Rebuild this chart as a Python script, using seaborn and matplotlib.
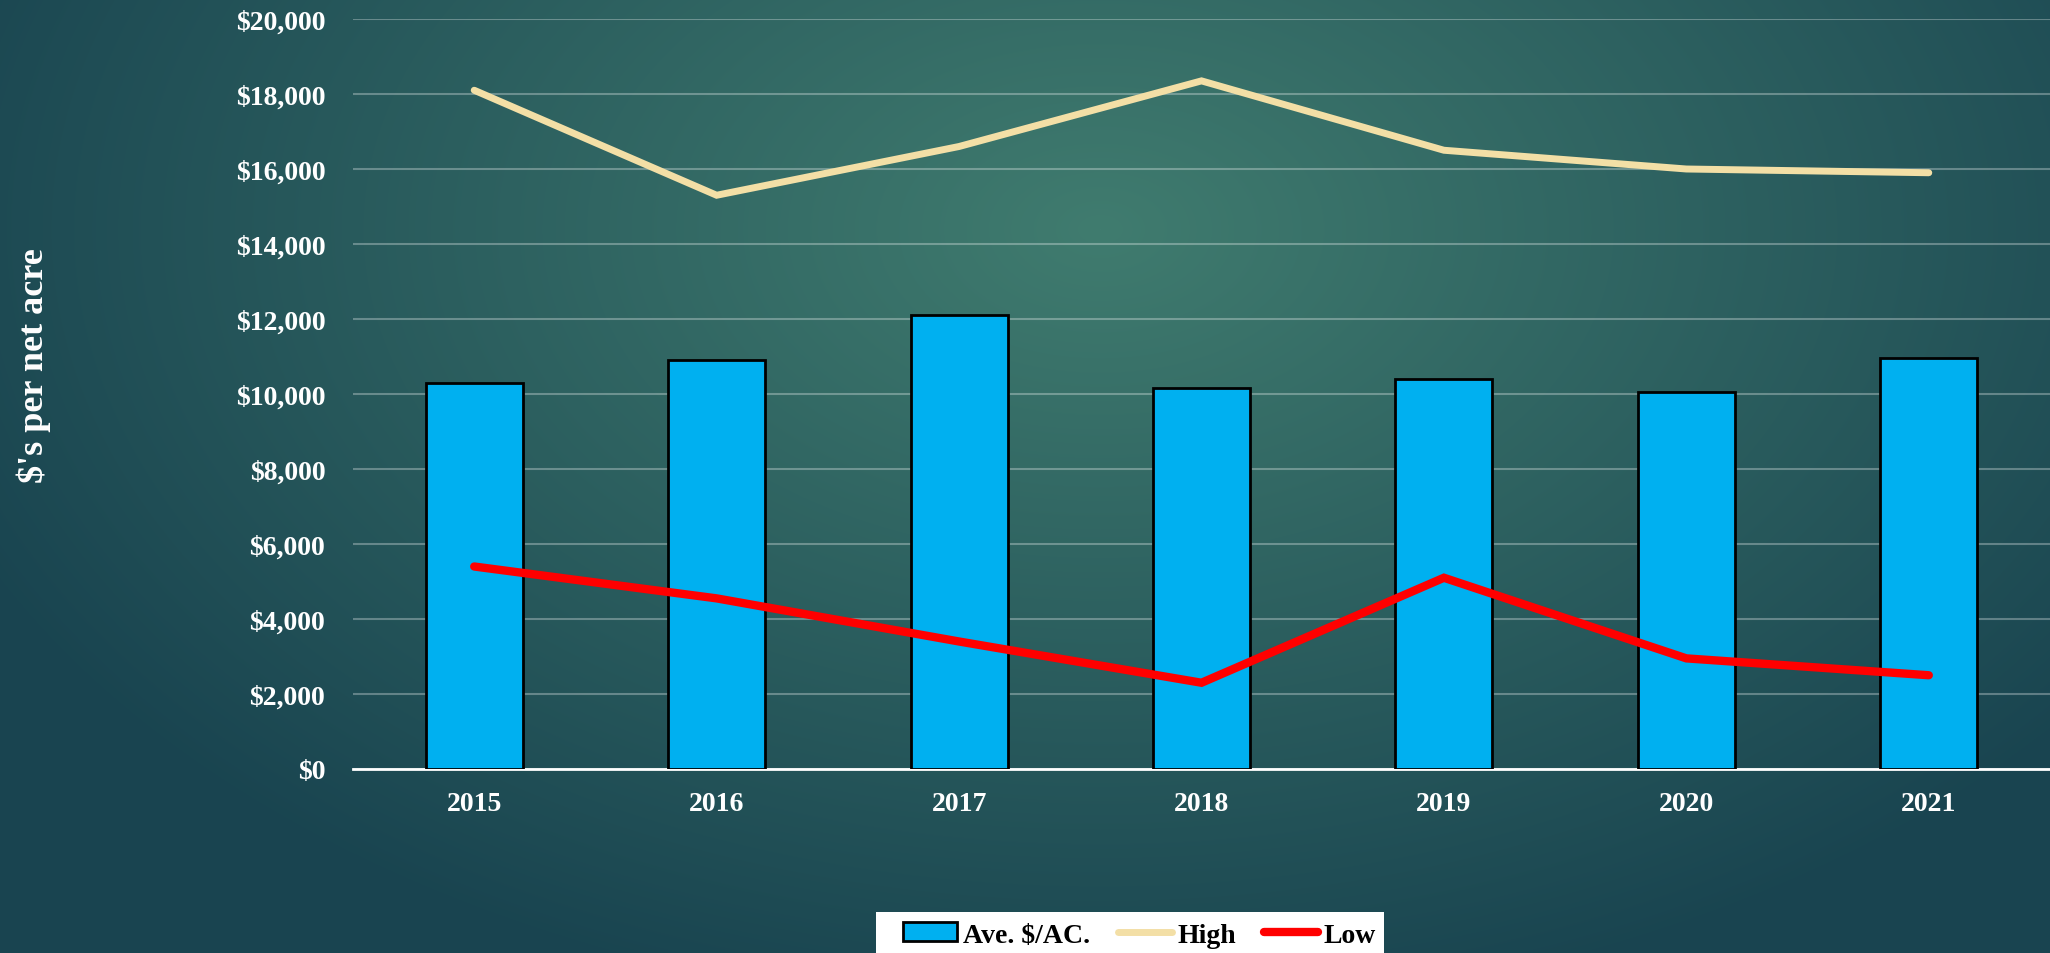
import numpy as np
import pandas as pd
import matplotlib
matplotlib.use("Agg")
import matplotlib.pyplot as plt
import seaborn as sns
from matplotlib.patches import Patch, Rectangle
from matplotlib.lines import Line2D

years = ["2015", "2016", "2017", "2018", "2019", "2020", "2021"]
avg_values = [10300, 10900, 12100, 10150, 10400, 10050, 10950]
high_values = [18100, 15300, 16600, 18350, 16500, 16000, 15900]
low_values = [5400, 4550, 3400, 2300, 5100, 2950, 2500]
y_ticks = [0, 2000, 4000, 6000, 8000, 10000, 12000, 14000, 16000, 18000, 20000]

df = pd.DataFrame({"year": years, "avg": avg_values, "high": high_values, "low": low_values})

sns.set_theme(style="white")
plt.rcParams["font.family"] = ["Liberation Serif", "DejaVu Serif"]

W, H = 2050, 954
fig = plt.figure(figsize=(W / 100, H / 100), dpi=100)

# background radial gradient
bg = fig.add_axes([0, 0, 1, 1], zorder=-10)
yy, xx = np.mgrid[0:H, 0:W]
cx, cy = 1100, 230
d = np.sqrt(((xx - cx) / 1250.0) ** 2 + ((yy - cy) / 800.0) ** 2)
d = np.clip(d, 0, 1)
c0 = np.array([64, 124, 111]) / 255.0
c1 = np.array([25, 68, 80]) / 255.0
img = c0[None, None, :] * (1 - d[..., None]) + c1[None, None, :] * d[..., None]
bg.imshow(img, aspect="auto", extent=[0, 1, 0, 1])
bg.axis("off")

left = 353 / W
bottom = (H - 770) / H
width = (W - 353) / W
height = 750 / H
ax = fig.add_axes([left, bottom, width, height])
ax.patch.set_alpha(0)

sns.barplot(data=df, x="year", y="avg", color="#00B0F0", saturation=1, width=0.4,
            edgecolor="black", linewidth=2, ax=ax, zorder=3)
sns.pointplot(data=df, x="year", y="high", color="#F3DFA6", markers="", linestyles="-",
              linewidth=5, ax=ax, zorder=4)
sns.pointplot(data=df, x="year", y="low", color="#FF0000", markers="", linestyles="-",
              linewidth=6, ax=ax, zorder=5)
for ln in ax.lines:
    ln.set_solid_capstyle("round")
    ln.set_solid_joinstyle("miter")

ax.set_ylim(0, 20000)
ax.set_xlim(-0.5, -0.5 + 7 * (W - 353) / (2062.6 - 353))
ax.set_yticks(y_ticks)
ax.set_yticklabels([f"${v:,}" for v in y_ticks], color="white", fontsize=20, fontweight="bold")
ax.yaxis.grid(True, color="white", alpha=0.3, linewidth=1.5, zorder=0)
ax.set_axisbelow(True)
ax.tick_params(axis="y", length=0, pad=20)

ax.set_xticks(range(len(years)))
ax.set_xticklabels(years, color="white", fontsize=20, fontweight="bold")
ax.set_xticks(np.arange(-0.5, 7.0, 1.0), minor=True)
ax.tick_params(axis="x", which="major", length=0, pad=16)
ax.tick_params(axis="x", which="minor", length=8, width=1.5, color="white", direction="out")

for s in ["left", "right", "top"]:
    ax.spines[s].set_visible(False)
ax.spines["bottom"].set_color("white")
ax.spines["bottom"].set_linewidth(2)

ax.set_xlabel("")
ax.set_ylabel("$'s per net acre", color="white", fontsize=26, fontweight="bold")
ax.yaxis.set_label_coords(-0.178, 0.539)

# white legend panel
fig.patches.append(Rectangle((876 / W, 0), (1384 - 876) / W, (H - 913) / H,
                             transform=fig.transFigure, facecolor="white",
                             edgecolor="none", zorder=5))

handles = [
    Patch(facecolor="#00B0F0", edgecolor="black", linewidth=2, label="Ave. $/AC."),
    Line2D([0], [0], color="#F3DFA6", linewidth=5, solid_capstyle="round", label="High"),
    Line2D([0], [0], color="#FF0000", linewidth=6, solid_capstyle="round", label="Low"),
]
leg = fig.legend(handles=handles, loc="center left", bbox_to_anchor=(903 / W, 1 - 936 / H),
                 ncol=3, frameon=False,
                 prop={"size": 20, "weight": "bold", "family": "Liberation Serif"},
                 handlelength=1.95, handleheight=0.65, handletextpad=0.2, columnspacing=1.0,
                 borderpad=0, borderaxespad=0)
leg.set_zorder(6)
for t in leg.get_texts():
    t.set_color("black")

fig.savefig("out.png", dpi=100)
